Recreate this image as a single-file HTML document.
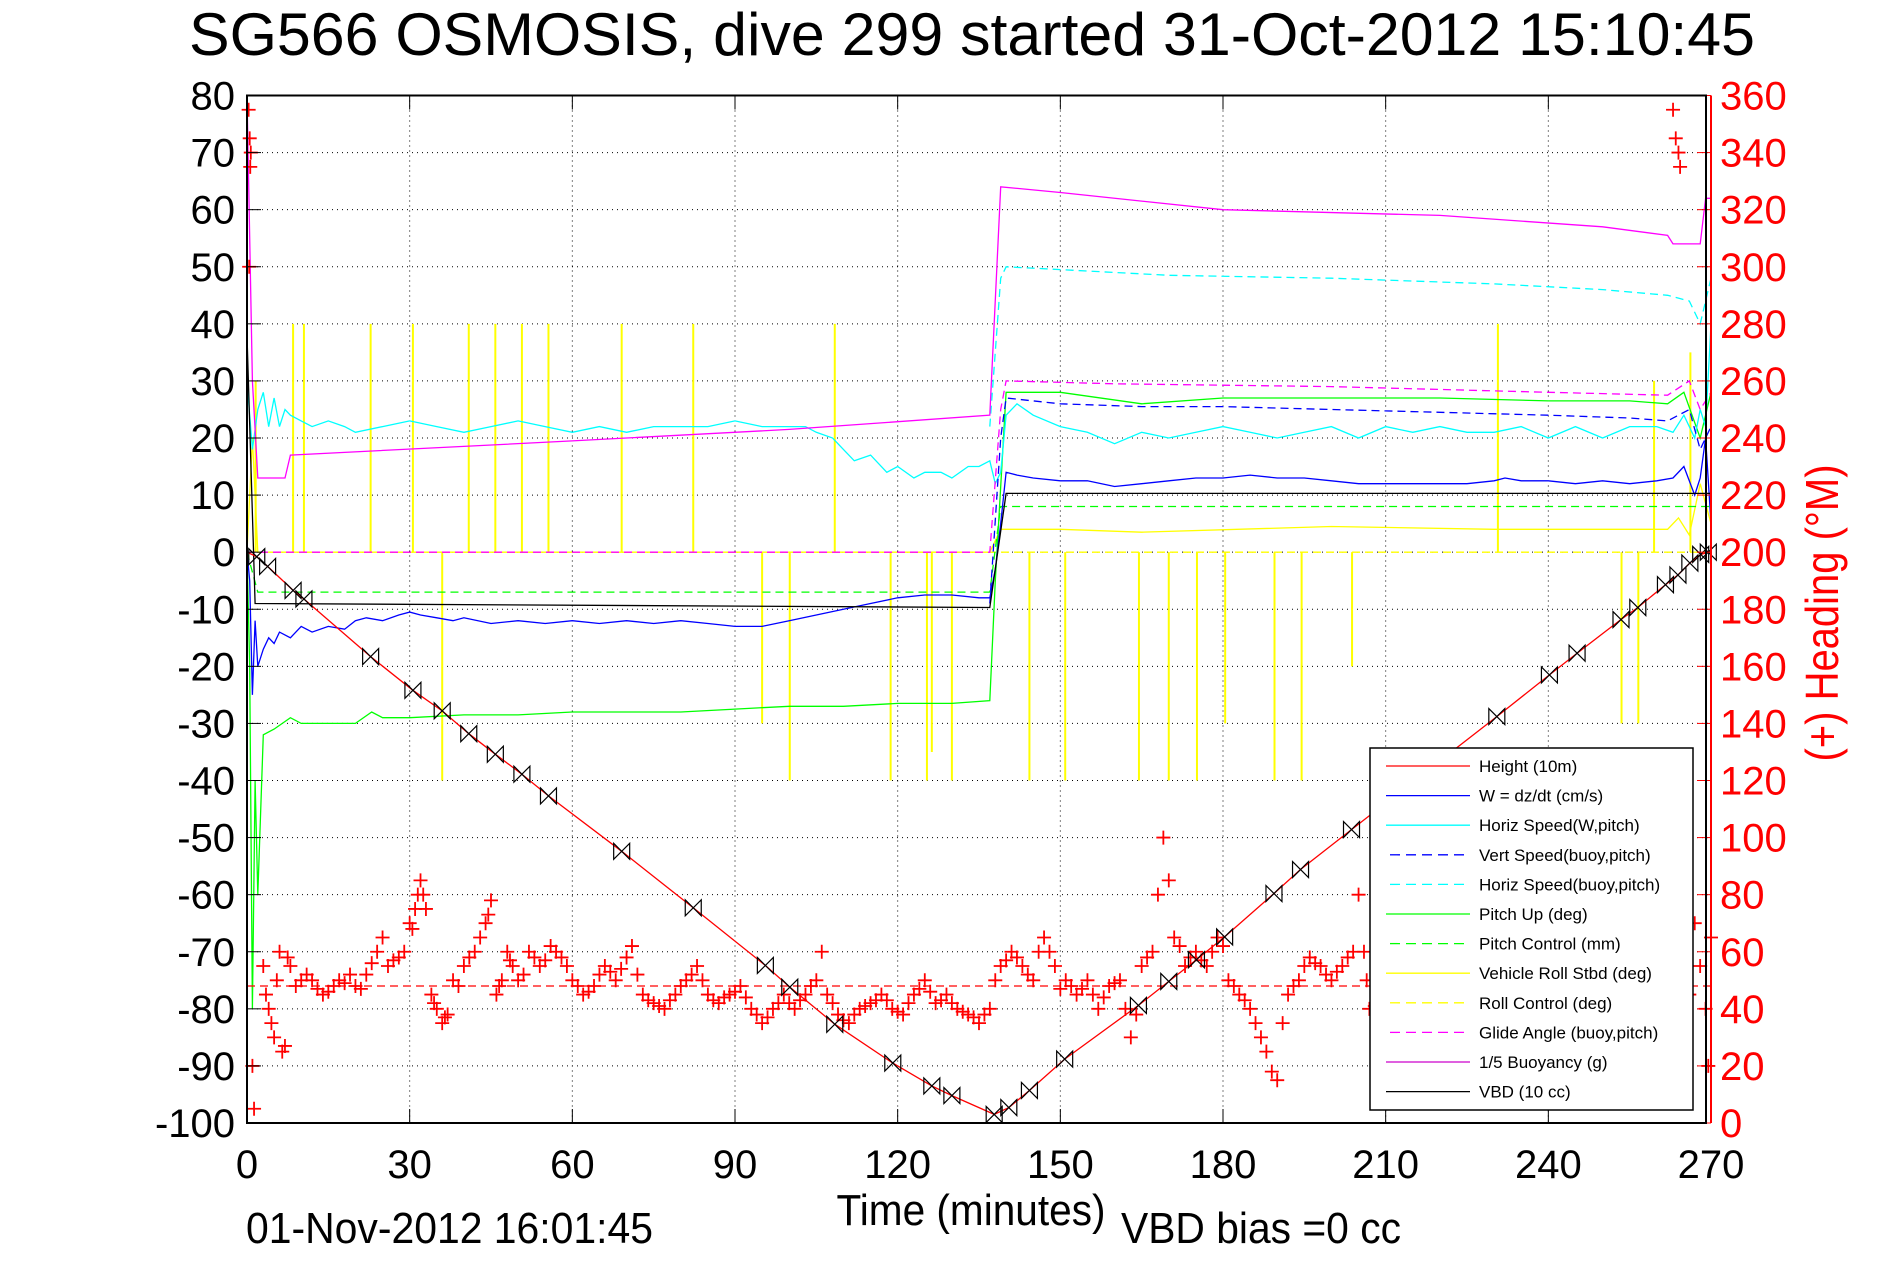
<!DOCTYPE html>
<html><head><meta charset="utf-8"><style>
html,body{margin:0;padding:0;background:#fff;}
svg{display:block;font-family:"Liberation Sans",sans-serif;}
</style></head><body>
<svg id="chart" width="1891" height="1262" viewBox="0 0 1891 1262" xmlns="http://www.w3.org/2000/svg">
<rect width="1891" height="1262" fill="#fff"/>
<text x="972" y="55" font-size="60" text-anchor="middle" textLength="1566" lengthAdjust="spacingAndGlyphs">SG566 OSMOSIS, dive 299 started 31-Oct-2012 15:10:45</text>
<g id="grid"></g><g id="series"></g><g id="axes"></g><g id="legend"></g>
<text x="971" y="1225" font-size="44" text-anchor="middle" textLength="269" lengthAdjust="spacingAndGlyphs">Time (minutes)</text>
<text x="1121" y="1243" font-size="44" textLength="280" lengthAdjust="spacingAndGlyphs">VBD bias =0 cc</text>
<text x="246" y="1243" font-size="44" textLength="407" lengthAdjust="spacingAndGlyphs">01-Nov-2012 16:01:45</text>
<text x="0" y="0" font-size="46" fill="#f00" text-anchor="middle" textLength="297" lengthAdjust="spacingAndGlyphs" transform="translate(1838,613) rotate(-90)">(+) Heading (°M)</text>
</svg>
<script>
const xTicks=[0,30,60,90,120,150,180,210,240,270];
const yTicks=[80,70,60,50,40,30,20,10,0,-10,-20,-30,-40,-50,-60,-70,-80,-90,-100];
const rTicks=[360,340,320,300,280,260,240,220,200,180,160,140,120,100,80,60,40,20,0];

const depthT=[0,1.8,3.8,8.5,10.5,22.8,30.6,36,40.9,45.8,50.7,55.6,69.1,82.3,95.6,100.1,108.4,119.1,126.3,130,137.8,140.5,144.3,150.8,164.4,170,175.1,180.3,189.4,194.3,203.7,230.5,240.2,245.3,253.4,256.5,261.6,263.9,266.1,268.1,269.5];
const depthV=[0,-0.8,-2.5,-6.7,-8.2,-18.3,-24.2,-27.8,-31.8,-35.4,-38.9,-42.7,-52.4,-62.3,-72.4,-76.2,-82.7,-89.5,-93.5,-95.2,-98.5,-97.3,-94.3,-88.8,-79.4,-75.2,-71.4,-67.4,-59.8,-55.6,-48.6,-28.8,-21.5,-17.7,-11.8,-9.7,-5.7,-4.0,-1.9,-0.4,0];

const wT=[0,0.5,1,1.5,2,3,4,5,6,8,10,12,15,18,20,22,25,28,30,32,35,38,40,45,50,55,60,65,70,75,80,85,90,95,100,105,110,115,120,125,130,135,137,138,139,140,142,145,150,155,160,165,170,175,180,185,190,195,200,205,210,215,220,225,230,232,235,240,245,250,255,260,263,265,267,268,269,270];
const wV=[0,-5,-25,-12,-20,-17,-15,-16,-14,-15,-13,-14,-13,-13.5,-12,-11.5,-12,-11,-10.5,-11,-11.5,-12,-11.5,-12.5,-12,-12.5,-12,-12.5,-12,-12.5,-12,-12.5,-13,-13,-12,-11,-10,-9,-8,-7.5,-7.5,-8,-8,-3,5,14,13.5,13,12.5,12.5,11.5,12,12.5,13,13,13.5,13,13,12.5,12,12,12,12,12,12.5,13,12.5,12.5,12,12.5,12,12.5,13,15,10,13,20,5];

const hsT=[0,1,2,3,4,5,6,7,8,10,12,15,18,20,25,30,35,40,45,50,55,60,65,70,75,80,85,90,95,100,103,105,108,110,112,115,118,120,123,125,128,130,133,135,137,138,139,140,142,145,150,155,160,165,170,175,180,185,190,195,200,205,210,215,220,225,230,235,240,245,250,255,260,263,265,267,268,269,270];
const hsV=[30,18,25,28,22,27,22,25,24,23,22,23,22,21,22,23,22,21,22,23,22,21,22,21,22,22,22,23,22,22,22,21,20,18,16,17,14,15,13,14,14,13,15,15,16,12,14,24,26,24,22,21,19,21,20,21,22,21,20,21,22,20,22,21,22,21,21,22,20,22,20,22,22,21,24,20,25,22,40];

const hbT=[137,139,140,150,170,200,230,250,262,266,268,270];
const hbV=[22,48,50,49.5,48.5,48,47,46,45,44,40,48];

const vbT=[137,139,140,150,165,180,200,220,240,255,262,266,268,270];
const vbV=[-9,20,27,26,25.5,25.5,25,24.5,24,23.5,23,25,18,22];

const glideT=[0,137,139,140,160,200,240,262,266,268,270];
const glideV=[0,0,25,30,29.5,29,28,27.5,30,25,28];

const pitchT=[0,0.5,1,1.5,2,3,5,8,10,20,23,25,30,40,50,60,70,80,90,100,110,120,130,137,138,140,150,165,180,200,220,240,255,262,265,268,270];
const pitchV=[0,-20,-80,-40,-60,-32,-31,-29,-30,-30,-28,-29,-29,-28.5,-28.5,-28,-28,-28,-27.5,-27,-27,-26.5,-26.5,-26,-5,28,28,26,27,27,27,26.5,26.5,26,28,20,28];

const pcT=[0,2,137,139,270];
const pcV=[0,-7,-7,8,8];

const rollT=[0,1,2,5,137,139,150,165,200,230,262,264,266,268,270];
const rollV=[0,20,0,0,0,4,4,3.5,4.5,4,4,6,3,12,5];

const rcT=[0,270];
const rcV=[0,0];

const spikeT=[1.6,8.5,10.5,22.8,30.6,36,40.9,45.8,50.7,55.6,69.1,82.3,95,100.1,108.4,118.7,125.4,126.3,130,144.3,150.9,164.5,170,175.2,180.4,189.5,194.5,203.8,230.7,253.5,256.6,259.5,266.2];
const spikeV=[30,40,40,40,40,-40,40,40,40,40,40,40,-30,-40,40,-40,-40,-35,-40,-40,-40,-40,-40,-40,-30,-40,-40,-20,40,-30,-30,30,35];

const buoyT=[0,1,2,7,8,60,100,137,139,150,180,220,250,262,263,268,269,270];
const buoyV=[80,30,13,13,17,19.5,21.5,24,64,63,60,59,57,55.5,54,54,62,62];

const vbdT=[0,1.5,137,140,270];
const vbdV=[38,-9,-9.7,10.3,10.3];

const headT=[0.3,0.5,0.7,0.4,0.6,1,1.3,3,4,5,6,7,8,9,10,12,14,15,17,18,20,22,24,25,26,28,29,30,31,32,33,34,35,36,37,38,40,42,44,45,46,47,48,49,50,52,54,56,58,60,62,64,66,68,70,71,73,75,77,79,81,83,85,87,89,91,93,95,97,99,101,103,105,106,107,109,111,113,115,117,119,121,123,125,127,129,131,133,135,137,139,141,143,145,147,149,151,153,155,157,159,161,163,165,167,168,169,170,171,173,175,177,179,181,183,185,187,188,189,190,192,194,196,198,200,202,204,205,206,207,209,263,263.5,264,264.3,265,266,267,268,269,270,269.5];
const headV=[355,345,340,300,335,20,5,55,40,30,60,27,55,48,50,50,45,46,50,49,48,52,60,65,55,58,60,70,75,85,75,45,40,35,38,50,55,60,70,78,45,50,60,55,50,60,55,62,58,50,45,48,55,50,58,62,45,42,40,45,50,55,45,42,45,48,40,35,40,45,40,45,50,60,45,38,35,40,42,45,40,38,45,50,42,45,40,38,35,40,55,60,55,50,65,55,50,45,50,40,48,50,30,55,60,80,100,85,65,55,60,55,65,50,45,40,30,25,18,15,45,50,58,55,50,55,60,80,60,40,42,355,345,340,335,60,45,70,55,40,65,20];
const head2T=[3.5,4.5,5.5,6.5,7.5,11,13,16,19,21,23,27,30.5,31.5,32.5,34.5,36.5,39,41,43,44.5,46.5,48.5,51,53,55,57,59,61,63,65,67,69,72,74,76,78,80,82,84,86,88,90,92,94,96,98,100,102,104,108,110,112,114,116,118,120,122,124,126,128,130,132,134,136,138,140,142,144,146,148,150,152,154,156,158,160,162,164,166,172,174,176,178,180,182,184,186,191,193,195,197,199,201,203,206.5,208,210];
const head2V=[45,35,50,25,58,52,47,48,52,47,56,57,68,80,80,42,37,48,58,65,73,48,57,52,58,57,60,55,48,46,52,53,54,52,43,41,43,48,52,50,43,44,46,44,38,37,42,42,43,48,42,36,38,41,43,43,39,42,47,46,43,42,39,37,38,50,57,58,52,60,60,47,48,47,45,44,49,40,38,58,62,58,57,60,62,48,43,35,35,48,55,56,52,53,58,50,41,44];
const headTarget=[48];

const X0=247,X1=1711,Y0=95.5,Y1=1123;
const xs=t=>X0+(t/270)*(X1-X0);
const yl=v=>Y1-((v+100)/180)*(Y1-Y0);
const yr=d=>Y1-(d/360)*(Y1-Y0);
const NS="http://www.w3.org/2000/svg";
function mk(tag,attrs,parent){const e=document.createElementNS(NS,tag);for(const k in attrs)e.setAttribute(k,attrs[k]);parent.appendChild(e);return e;}
const grid=document.getElementById('grid'),ser=document.getElementById('series'),ax=document.getElementById('axes'),leg=document.getElementById('legend');

xTicks.forEach(t=>{
  const g=mk('line',{x1:xs(t),x2:xs(t),y1:Y0,y2:Y1,stroke:'#000','stroke-width':1,'stroke-dasharray':'1,4'},grid);
  
  
  const lb=mk('text',{x:xs(t),y:1178,'font-size':40,'text-anchor':'middle'},ax);
  lb.textContent=t;
  
  
  mk('line',{x1:xs(t),x2:xs(t),y1:Y1,y2:Y1-14,stroke:'#000'},ax);
  mk('line',{x1:xs(t),x2:xs(t),y1:Y0,y2:Y0+14,stroke:'#000'},ax);
});
yTicks.forEach(v=>{
  const g=mk('line',{x1:X0,x2:X1,y1:yl(v),y2:yl(v),stroke:'#000','stroke-width':1,'stroke-dasharray':'1,4'},grid);
  
  
  const lb=mk('text',{x:235,y:yl(v)+14,'font-size':40,'text-anchor':'end'},ax);
  lb.textContent=v;
  
  
  mk('line',{x1:X0,x2:X0+14,y1:yl(v),y2:yl(v),stroke:'#000'},ax);
});
rTicks.forEach(d=>{
  const lb=mk('text',{x:1720,y:yr(d)+14,'font-size':40,fill:'#f00'},ax);
  lb.textContent=d;
  
  
  mk('line',{x1:X1,x2:X1-14,y1:yr(d),y2:yr(d),stroke:'#f00'},ax);
});
const frame=mk('rect',{x:X0,y:Y0,width:X1-X0-5,height:Y1-Y0,fill:'none',stroke:'#000','stroke-width':2},ax);


const raxis=mk('line',{x1:X1,x2:X1,y1:Y0,y2:Y1,stroke:'#f00','stroke-width':2},ax);



function line(T,V,color,dash,name,yf){
  const d=T.map((t,i)=>(i?'L':'M')+xs(t).toFixed(1)+','+(yf||yl)(V[i]).toFixed(1)).join('');
  const p=mk('path',{d:d,fill:'none',stroke:color,'stroke-width':1.3},ser);
  if(dash)p.setAttribute('stroke-dasharray',dash);
  
  
}
spikeT.forEach((t,i)=>{
  const s=mk('line',{x1:xs(t),x2:xs(t),y1:yl(0),y2:yl(spikeV[i]),stroke:'#ff0','stroke-width':2},ser);
  
  
});
line(rcT,rcV,'#ff0','8,5','roll-control-line');
line(rollT,rollV,'#ff0',null,'vehicle-roll-line');
line(pcT,pcV,'#0f0','8,5','pitch-control-line');
line(pitchT,pitchV,'#0f0',null,'pitch-up-line');
line(hbT,hbV,'#0ff','8,5','horiz-speed-buoy-line');
line(hsT,hsV,'#0ff',null,'horiz-speed-w-line');
line(glideT,glideV,'#f0f','8,5','glide-angle-line');
line(vbT,vbV,'#00f','8,5','vert-speed-buoy-line');
line(wT,wV,'#00f',null,'w-line');
line(buoyT,buoyV,'#f0f',null,'buoyancy-line');
line(vbdT,vbdV,'#000',null,'vbd-line');
const ht=mk('line',{x1:X0,x2:X1,y1:yr(headTarget[0]),y2:yr(headTarget[0]),stroke:'#f00','stroke-dasharray':'8,5','stroke-width':1.3},ser);


function headPts(T,V){
  T.forEach((t,i)=>{
    const x=xs(t),y=yr(V[i]);
    const p=mk('path',{d:`M${x-7},${y}L${x+7},${y}M${x},${y-7}L${x},${y+7}`,stroke:'#f00','stroke-width':1.8},ser);
    
    
  });
}
headPts(headT,headV);
headPts(head2T,head2V);
line(depthT,depthV,'#f00',null,'height-line');
depthT.forEach((t,i)=>{
  if(i===0)return;
  const x=xs(t),y=yl(depthV[i]);
  const p=mk('path',{d:`M${x-8},${y-8}L${x+8},${y+8}L${x+8},${y-8}L${x-8},${y+8}ZM${x-8},${y-8}L${x-8},${y+8}`,fill:'none',stroke:'#000','stroke-width':1.2},ser);
  
  
});
const lbox=mk('rect',{x:1370,y:748,width:323,height:362,fill:'#fff',stroke:'#000','stroke-width':1.5},leg);


const legItems=[['Height (10m)','#f00',null],['W = dz/dt (cm/s)','#00f',null],['Horiz Speed(W,pitch)','#0ff',null],['Vert Speed(buoy,pitch)','#00f','10,6'],['Horiz Speed(buoy,pitch)','#0ff','10,6'],['Pitch Up (deg)','#0f0',null],['Pitch Control (mm)','#0f0','10,6'],['Vehicle Roll Stbd (deg)','#ff0',null],['Roll Control (deg)','#ff0','10,6'],['Glide Angle (buoy,pitch)','#f0f','10,6'],['1/5 Buoyancy (g)','#c0c',null],['VBD (10 cc)','#000',null]];
legItems.forEach((it,i)=>{
  const y=766+i*29.6;
  const l=mk('line',{x1:it[2]?1390:1386,x2:1470,y1:y,y2:y,stroke:it[1],'stroke-width':1.3},leg);
  if(it[2])l.setAttribute('stroke-dasharray',it[2]);
  const tx=mk('text',{x:1479,y:y+6,'font-size':17},leg);
  tx.textContent=it[0];
  
  
});
</script>
</body></html>
